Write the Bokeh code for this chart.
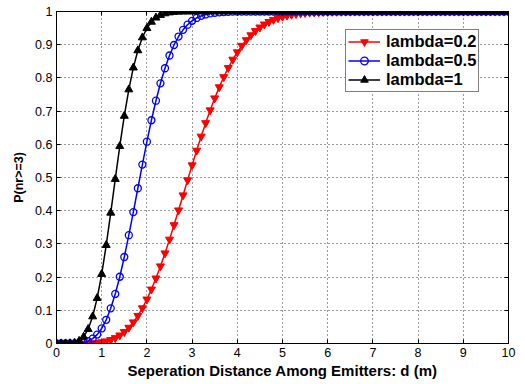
from bokeh.plotting import figure
from bokeh.models import (FixedTicker, CustomJSTickFormatter, Legend, LegendItem,
                          Range1d, LinearAxis)
from bokeh.embed import file_html
from bokeh.resources import INLINE

# ---------------- data ----------------
d = [0.0, 0.1, 0.2, 0.3, 0.4, 0.5, 0.6, 0.7, 0.8, 0.9,
     1.0, 1.1, 1.2, 1.3, 1.4, 1.5, 1.6, 1.7, 1.8, 1.9,
     2.0, 2.1, 2.2, 2.3, 2.4, 2.5, 2.6, 2.7, 2.8, 2.9,
     3.0, 3.1, 3.2, 3.3, 3.4, 3.5, 3.6, 3.7, 3.8, 3.9,
     4.0, 4.1, 4.2, 4.3, 4.4, 4.5, 4.6, 4.7, 4.8, 4.9,
     5.0, 5.1, 5.2, 5.3, 5.4, 5.5, 5.6, 5.7, 5.8, 5.9,
     6.0, 6.1, 6.2, 6.3, 6.4, 6.5, 6.6, 6.7, 6.8, 6.9,
     7.0, 7.1, 7.2, 7.3, 7.4, 7.5, 7.6, 7.7, 7.8, 7.9,
     8.0, 8.1, 8.2, 8.3, 8.4, 8.5, 8.6, 8.7, 8.8, 8.9,
     9.0, 9.1, 9.2, 9.3, 9.4, 9.5, 9.6, 9.7, 9.8, 9.9,
     10.0]

p_lambda_02 = [0.0, 0.0, 0.0, 0.0, 0.0, 0.0001, 0.0002, 0.0005, 0.0012, 0.0023,
               0.0041, 0.0069, 0.0110, 0.0168, 0.0247, 0.0350, 0.0480, 0.0642, 0.0836, 0.1066,
               0.1330, 0.1630, 0.1963, 0.2328, 0.2719, 0.3134, 0.3568, 0.4014, 0.4467, 0.4921,
               0.5371, 0.5811, 0.6236, 0.6643, 0.7028, 0.7388, 0.7722, 0.8027, 0.8305, 0.8554,
               0.8776, 0.8971, 0.9142, 0.9289, 0.9416, 0.9524, 0.9614, 0.9690, 0.9753, 0.9804,
               0.9846, 0.9880, 0.9907, 0.9928, 0.9945, 0.9958, 0.9969, 0.9977, 0.9983, 0.9987,
               0.9991, 0.9993, 0.9995, 0.9996, 0.9998, 0.9998, 0.9999, 0.9999, 0.9999, 1.0,
               1.0, 1.0, 1.0, 1.0, 1.0, 1.0, 1.0, 1.0, 1.0, 1.0,
               1.0, 1.0, 1.0, 1.0, 1.0, 1.0, 1.0, 1.0, 1.0, 1.0,
               1.0, 1.0, 1.0, 1.0, 1.0, 1.0, 1.0, 1.0, 1.0, 1.0,
               1.0]

p_lambda_05 = [0.0, 0.0, 0.0, 0.0001, 0.0003, 0.0011, 0.0031, 0.0071, 0.0146, 0.0268,
               0.0453, 0.0714, 0.1059, 0.1492, 0.2011, 0.2606, 0.3262, 0.3959, 0.4676, 0.5389,
               0.6078, 0.6724, 0.7313, 0.7837, 0.8291, 0.8674, 0.8991, 0.9246, 0.9447, 0.9602,
               0.9719, 0.9805, 0.9867, 0.9911, 0.9942, 0.9962, 0.9976, 0.9985, 0.9991, 0.9995,
               0.9997, 0.9998, 0.9999, 0.9999, 1.0, 1.0, 1.0, 1.0, 1.0, 1.0,
               1.0, 1.0, 1.0, 1.0, 1.0, 1.0, 1.0, 1.0, 1.0, 1.0,
               1.0, 1.0, 1.0, 1.0, 1.0, 1.0, 1.0, 1.0, 1.0, 1.0,
               1.0, 1.0, 1.0, 1.0, 1.0, 1.0, 1.0, 1.0, 1.0, 1.0,
               1.0, 1.0, 1.0, 1.0, 1.0, 1.0, 1.0, 1.0, 1.0, 1.0,
               1.0, 1.0, 1.0, 1.0, 1.0, 1.0, 1.0, 1.0, 1.0, 1.0,
               1.0]

p_lambda_1 = [0.0, 0.0, 0.0, 0.0004, 0.0022, 0.0075, 0.0198, 0.0432, 0.0813, 0.1366,
              0.2090, 0.2963, 0.3936, 0.4952, 0.5942, 0.6854, 0.7650, 0.8308, 0.8827, 0.9216,
              0.9495, 0.9687, 0.9813, 0.9892, 0.9940, 0.9968, 0.9983, 0.9992, 0.9996, 0.9998,
              0.9999, 1.0, 1.0, 1.0, 1.0, 1.0, 1.0, 1.0, 1.0, 1.0,
              1.0, 1.0, 1.0, 1.0, 1.0, 1.0, 1.0, 1.0, 1.0, 1.0,
              1.0, 1.0, 1.0, 1.0, 1.0, 1.0, 1.0, 1.0, 1.0, 1.0,
              1.0, 1.0, 1.0, 1.0, 1.0, 1.0, 1.0, 1.0, 1.0, 1.0,
              1.0, 1.0, 1.0, 1.0, 1.0, 1.0, 1.0, 1.0, 1.0, 1.0,
              1.0, 1.0, 1.0, 1.0, 1.0, 1.0, 1.0, 1.0, 1.0, 1.0,
              1.0, 1.0, 1.0, 1.0, 1.0, 1.0, 1.0, 1.0, 1.0, 1.0,
              1.0]

series_labels = ["lambda=0.2", "lambda=0.5", "lambda=1"]
x_ticks = [0, 1, 2, 3, 4, 5, 6, 7, 8, 9, 10]
y_ticks = [0, 0.1, 0.2, 0.3, 0.4, 0.5, 0.6, 0.7, 0.8, 0.9, 1]
x_label = "Seperation Distance Among Emitters: d (m)"
y_label = "P(nr>=3)"

# ---------------- figure ----------------
FONT = "Liberation Sans"

p = figure(width=525, height=384, output_backend="svg", toolbar_location=None,
           x_range=Range1d(0, 10), y_range=Range1d(0, 1),
           min_border_left=56, min_border_right=17, min_border_top=11,
           min_border_bottom=41)
p.background_fill_color = "white"
p.border_fill_color = "white"
p.outline_line_color = "black"
p.outline_line_width = 1

fmt = CustomJSTickFormatter(code="return String(Math.round(tick * 10) / 10);")
blank = CustomJSTickFormatter(code="return '';")

for ax, ticks in ((p.xaxis[0], x_ticks), (p.yaxis[0], y_ticks)):
    ax.ticker = FixedTicker(ticks=ticks)
    ax.formatter = fmt
    ax.major_tick_in = 4
    ax.major_tick_out = 0
    ax.minor_tick_line_color = None
    ax.axis_line_color = "black"
    ax.major_tick_line_color = "black"
    ax.major_label_text_font = FONT
    ax.major_label_text_font_size = "12.5px"
    ax.major_label_text_color = "black"
    ax.major_label_standoff = 4
    ax.axis_label_text_font = FONT
    ax.axis_label_text_font_style = "bold"
    ax.axis_label_text_color = "black"

p.xaxis.axis_label = x_label
p.yaxis.axis_label = y_label
p.xaxis.axis_label_text_font_size = "15px"
p.yaxis.axis_label_text_font_size = "12.5px"
p.xaxis.axis_label_standoff = 2
p.yaxis.axis_label_standoff = 6

# box ticks on top and right (MATLAB style)
for side, ticks in (("right", y_ticks), ("above", x_ticks)):
    a = LinearAxis(ticker=FixedTicker(ticks=ticks), formatter=blank,
                   major_tick_in=4, major_tick_out=0, minor_tick_line_color=None,
                   axis_line_color="black", major_tick_line_color="black",
                   major_label_standoff=0, major_label_text_font_size="1px")
    p.add_layout(a, side)

for g in (p.xgrid[0], p.ygrid[0]):
    g.grid_line_color = "#222222"
    g.grid_line_dash = "1 3"
    g.grid_line_width = 1
    g.grid_line_alpha = 0.9
p.xgrid[0].ticker = FixedTicker(ticks=x_ticks)
p.ygrid[0].ticker = FixedTicker(ticks=y_ticks)

# ---------------- series ----------------
r_line = p.line(d, p_lambda_02, line_color="red", line_width=1.5)
r_mark = p.scatter(d, p_lambda_02, marker="inverted_triangle", size=8,
                   fill_color="red", line_color="red")
b_line = p.line(d, p_lambda_05, line_color="blue", line_width=1.5)
b_mark = p.scatter(d, p_lambda_05, marker="circle", size=7,
                   fill_color=None, line_color="blue", line_width=1.3)
k_line = p.line(d, p_lambda_1, line_color="black", line_width=1.5)
k_mark = p.scatter(d, p_lambda_1, marker="triangle", size=8,
                   fill_color="black", line_color="black")

legend = Legend(items=[
    LegendItem(label=series_labels[0], renderers=[r_line, r_mark]),
    LegendItem(label=series_labels[1], renderers=[b_line, b_mark]),
    LegendItem(label=series_labels[2], renderers=[k_line, k_mark]),
], location=(289, 251))
legend.label_text_font = FONT
legend.label_text_font_size = "16.5px"
legend.label_text_font_style = "bold"
legend.label_text_color = "black"
legend.padding = 2
legend.spacing = 0
legend.margin = 0
legend.label_height = 19
legend.glyph_height = 19
legend.glyph_width = 32
legend.label_standoff = 6
legend.border_line_color = "black"
legend.border_line_width = 1
legend.background_fill_color = "white"
legend.background_fill_alpha = 1.0
p.add_layout(legend, "center")

open("out.html", "w").write(file_html(p, INLINE))
